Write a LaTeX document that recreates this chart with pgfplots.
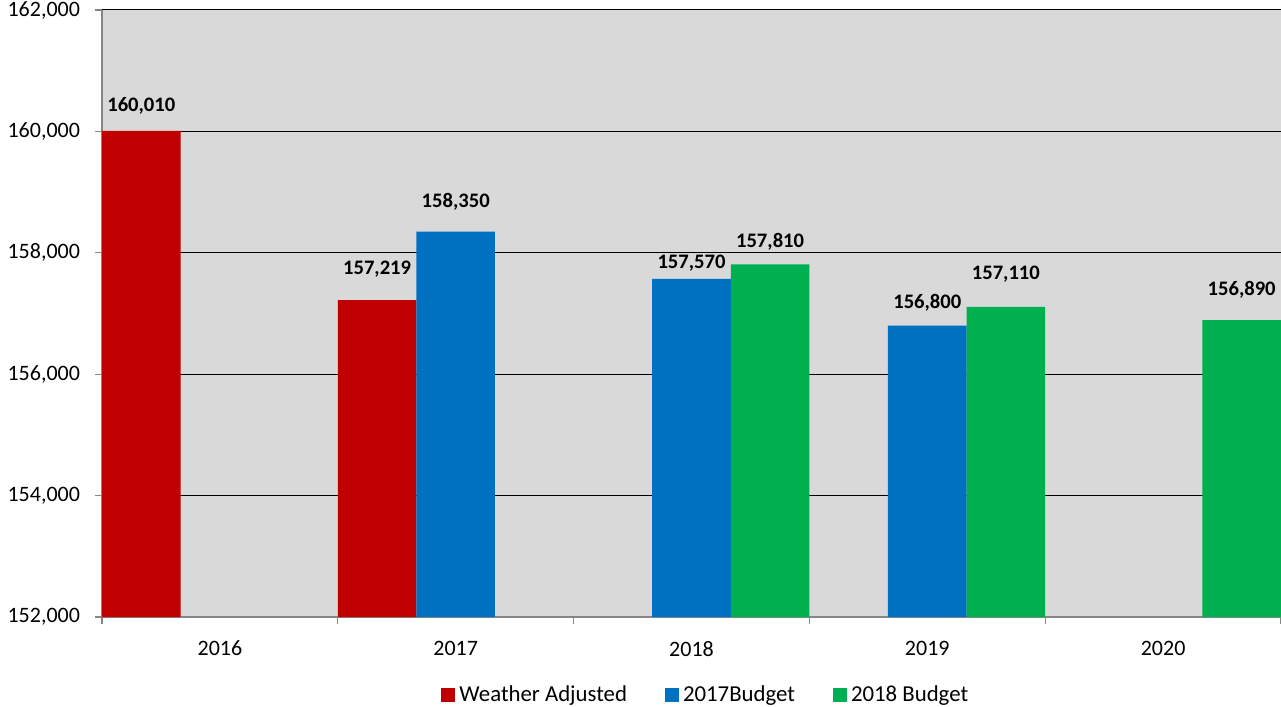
\documentclass[border=0pt]{standalone}
\usepackage{fontspec}
\setmainfont{Carlito}
\usepackage{pgfplots}
\pgfplotsset{compat=1.18}
\usepackage{pgfplotstable}
\definecolor{bgc}{HTML}{D9D9D9}
\definecolor{cred}{HTML}{C00000}
\definecolor{cblue}{HTML}{0070C0}
\definecolor{cgreen}{HTML}{00B050}
\definecolor{axgray}{HTML}{868686}

\pgfplotstableread{
x y off
0 160010 12.5
1 157219 15.5
}\wa
\pgfplotstableread{
x y off
1 158350 15
2 157570 8
3 156800 11.5
}\bA
\pgfplotstableread{
x y off
2 157810 11.5
3 157110 16.5
4 156890 15
}\bB

\begin{document}
\begin{tikzpicture}
\begin{axis}[
  scale only axis, width=589.5pt, height=303.5pt,
  xmin=-0.5, xmax=4.5, ymin=152000, ymax=162000,
  ybar, bar width=0.3333,
  axis background/.style={fill=bgc},
  axis x line*=bottom, axis y line*=left,
  axis line style={axgray, line width=1pt, -},
  ytick={152000,154000,...,162000},
  scaled y ticks=false,
  /pgf/number format/fixed,
  /pgf/number format/precision=0,
  /pgf/number format/1000 sep={,},
  /pgf/number format/assume math mode=true,
  xtick={-0.5,0.5,1.5,2.5,3.5,4.5},
  xticklabels={2016,2017,2018,2019,2020},
  x tick label as interval,
  tick align=outside, major tick length=3.5pt,
  tick style={axgray, line width=0.6pt},
  ymajorgrids, major grid style={black, line width=0.5pt},
  ticklabel style={font=\fontsize{11}{13}\selectfont},
  yticklabel style={xshift=-4pt},
  xticklabel style={yshift=-5pt},
  nodes near coords,
  every node near coord/.append style={font=\bfseries\fontsize{10.3}{12}\selectfont, anchor=center, yshift=\off pt, black},
  legend style={at={(0.513,-0.1285)}, anchor=center, draw=none, fill=none,
    legend columns=3, font=\fontsize{11.4}{13}\selectfont,
    /tikz/every even column/.append style={column sep=17pt}},
  mylegend/.style={legend image code/.code={\fill[##1,draw=none] (0pt,-3.5pt) rectangle (7pt,3.5pt);}},
]
\addplot[fill=cred, draw=none, bar shift=-0.3333, mylegend,
  visualization depends on={\thisrow{off} \as \off}] table[x=x,y=y] {\wa};
\addlegendentry{Weather Adjusted}
\addplot[fill=cblue, draw=none, bar shift=0, mylegend,
  visualization depends on={\thisrow{off} \as \off}] table[x=x,y=y] {\bA};
\addlegendentry{2017Budget}
\addplot[fill=cgreen, draw=none, bar shift=0.3333, mylegend,
  visualization depends on={\thisrow{off} \as \off}] table[x=x,y=y] {\bB};
\addlegendentry{2018 Budget}
\end{axis}
\pgfresetboundingbox
\path (-51pt,-45pt) rectangle (589.5pt,308.5pt);
\end{tikzpicture}
\end{document}
